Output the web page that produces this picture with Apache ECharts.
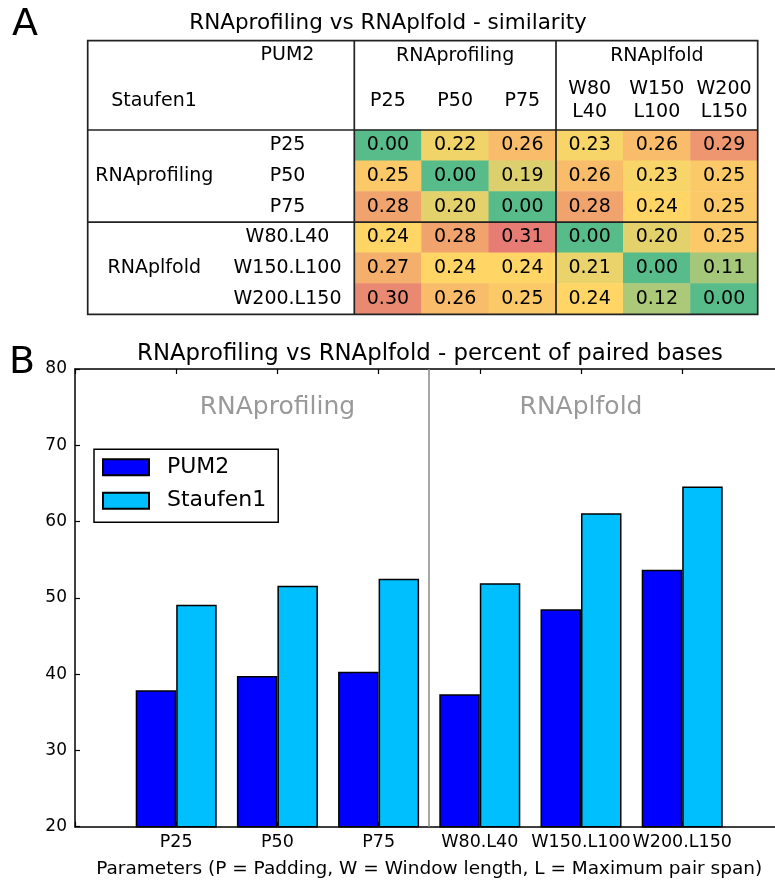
<!DOCTYPE html>
<html><head><meta charset="utf-8">
<script src="https://cdn.jsdelivr.net/npm/echarts@6/dist/echarts.min.js"></script>
<style>html,body{margin:0;padding:0;background:#fff}#c{width:775px;height:882px}</style>
</head><body><div id="c"></div>
<script>
// ---------- Data: panel A (similarity table) ----------
const tableRowLabels = ['P25', 'P50', 'P75', 'W80.L40', 'W150.L100', 'W200.L150'];
const tableColLabels = ['P25', 'P50', 'P75', 'W80\nL40', 'W150\nL100', 'W200\nL150'];
const tableGroups = ['RNAprofiling', 'RNAplfold'];
const similarity = [
  [0.00, 0.22, 0.26, 0.23, 0.26, 0.29],
  [0.25, 0.00, 0.19, 0.26, 0.23, 0.25],
  [0.28, 0.20, 0.00, 0.28, 0.24, 0.25],
  [0.24, 0.28, 0.31, 0.00, 0.20, 0.25],
  [0.27, 0.24, 0.24, 0.21, 0.00, 0.11],
  [0.30, 0.26, 0.25, 0.24, 0.12, 0.00]
];
// ---------- Data: panel B (bars) ----------
const barCategories = ['P25', 'P50', 'P75', 'W80.L40', 'W150.L100', 'W200.L150'];
const barGroups = [{ name: 'RNAprofiling', from: 0, to: 2 }, { name: 'RNAplfold', from: 3, to: 5 }];
const pum2Values = [37.9, 39.75, 40.3, 37.35, 48.5, 53.7];
const staufen1Values = [49.1, 51.6, 52.5, 51.9, 61.1, 64.6];
const yMin = 20, yMax = 80, yStep = 10;

// ---------- Layout ----------
const FONT = 'DejaVu Sans';
const T = { left: 354.3, top: 130, width: 403.4, height: 184.3, outerLeft: 87.7, outerTop: 40.7 };
const B = { left: 75, top: 369, width: 708.4, height: 457.7 };

// colour scale green -> yellow -> red
function hex(c){return [1,3,5].map(i=>parseInt(c.substr(i,2),16));}
const stops = [[0, hex('#57bb8a')], [0.24, hex('#ffd666')], [0.31, hex('#e67c73')]];
function colorAt(v){
  for (let i=0;i<stops.length-1;i++){
    const [a,ca]=stops[i],[b,cb]=stops[i+1];
    if (v<=b+1e-9){const t=(v-a)/(b-a);return 'rgb('+ca.map((x,k)=>Math.round(x+(cb[k]-x)*t)).join(',')+')';}
  }
  return 'rgb('+stops[stops.length-1][1].join(',')+')';
}
const palette = [];
for (let i=0;i<=31;i++) palette.push(colorAt(i/100));

const heatData = [];
similarity.forEach((row, r) => row.forEach((v, c) => heatData.push([c, r, v])));

const chart = echarts.init(document.getElementById('c'), null, { renderer: 'canvas' });

const tableLine = { stroke: '#222', lineWidth: 1.7 };
const rowH = T.height / 6, colW = T.width / 6;
const outerRight = T.left + T.width, outerBottom = T.top + T.height;

const option = {
  animation: false,
  textStyle: { fontFamily: FONT, color: '#000' },
  grid: [
    { left: T.left, top: T.top, width: T.width, height: T.height, containLabel: false, outerBoundsMode: 'none' },
    { left: B.left, top: B.top, width: B.width, height: B.height, containLabel: false, outerBoundsMode: 'none' }
  ],
  visualMap: {
    show: false, type: 'continuous', min: 0, max: 0.31, seriesIndex: 0, dimension: 2,
    inRange: { color: palette }
  },
  legend: {
    data: ['PUM2', 'Staufen1'], orient: 'vertical', left: 94, top: 449.3,
    itemWidth: 46, itemHeight: 16, itemGap: 11.4, icon: 'rect',
    textStyle: { fontSize: 22, color: '#000', fontFamily: FONT, padding: [0, 0, 0, 13] },
    padding: [7, 12, 10.6, 8], borderColor: '#000', borderWidth: 1.5, selectedMode: false
  },
  xAxis: [
    { gridIndex: 0, type: 'category', position: 'top', data: tableColLabels,
      axisLine: { show: false }, axisTick: { show: false }, splitLine: { show: false },
      axisLabel: { margin: 29, verticalAlign: 'middle', fontSize: 19, lineHeight: 23, color: '#000', interval: 0 } },
    { gridIndex: 0, type: 'category', position: 'top', data: tableGroups,
      axisLine: { show: false }, axisTick: { show: false }, splitLine: { show: false },
      axisLabel: { margin: 74, verticalAlign: 'middle', fontSize: 19, color: '#000', interval: 0 } },
    { gridIndex: 1, type: 'value', position: 'bottom', min: -1, max: 6, interval: 1,
      axisLine: { onZero: false, lineStyle: { color: '#000', width: 1.5 } },
      axisTick: { inside: true, length: 5, lineStyle: { color: '#000', width: 1.2 } },
      splitLine: { show: false },
      axisLabel: { formatter: v => barCategories[v] || '', fontSize: 17.5, color: '#000', margin: 7 },
      name: 'Parameters (P = Padding, W = Window length, L = Maximum pair span)',
      nameLocation: 'middle', nameGap: 33, nameTextStyle: { fontSize: 18.5, color: '#000' } },
    { gridIndex: 1, type: 'value', position: 'top', min: -1, max: 6, interval: 1,
      axisLine: { onZero: false, lineStyle: { color: '#000', width: 1.5 } },
      axisTick: { inside: true, length: 5, lineStyle: { color: '#000', width: 1.2 } },
      splitLine: { show: false }, axisLabel: { show: false } }
  ],
  yAxis: [
    { gridIndex: 0, type: 'category', position: 'left', inverse: true, data: tableRowLabels,
      axisLine: { show: false }, axisTick: { show: false }, splitLine: { show: false },
      axisLabel: { margin: 66.8, align: 'center', fontSize: 19, color: '#000', interval: 0 } },
    { gridIndex: 0, type: 'category', position: 'left', inverse: true, data: tableGroups,
      axisLine: { show: false }, axisTick: { show: false }, splitLine: { show: false },
      axisLabel: { margin: 200, align: 'center', fontSize: 19, color: '#000', interval: 0 } },
    { gridIndex: 1, type: 'value', position: 'left', min: yMin, max: yMax, interval: yStep,
      axisLine: { show: true, onZero: false, lineStyle: { color: '#000', width: 1.5 } },
      axisTick: { show: true, inside: true, length: 5, lineStyle: { color: '#000', width: 1.2 } },
      splitLine: { show: false },
      axisLabel: { fontSize: 17, color: '#000', margin: 8 } }
  ],
  series: [
    { type: 'heatmap', xAxisIndex: 0, yAxisIndex: 0, data: heatData,
      label: { show: true, formatter: p => p.value[2].toFixed(2), fontSize: 19, color: '#000' },
      itemStyle: { borderWidth: 0 }, emphasis: { disabled: true } },
    { type: 'bar', name: 'PUM2', xAxisIndex: 2, yAxisIndex: 2,
      data: pum2Values.map((v, i) => [i, v]), barWidth: 40.5, barGap: '0%',
      itemStyle: { color: '#0000ff', borderColor: '#000', borderWidth: 1.5 },
      emphasis: { disabled: true } },
    { type: 'bar', name: 'Staufen1', xAxisIndex: 2, yAxisIndex: 2,
      data: staufen1Values.map((v, i) => [i, v]), barWidth: 40.5, barGap: '0%',
      itemStyle: { color: '#00bfff', borderColor: '#000', borderWidth: 1.5 },
      emphasis: { disabled: true } },
    { type: 'scatter', xAxisIndex: 2, yAxisIndex: 2, symbolSize: 0, silent: true, z: 1,
      data: barGroups.map(g => ({ name: g.name, value: [(g.from + g.to) / 2, 75] })),
      label: { show: true, position: 'inside', formatter: p => p.name, fontSize: 25, color: '#808080' },
      markLine: { silent: true, symbol: 'none', label: { show: false },
        lineStyle: { color: '#888', width: 1.5, type: 'solid' },
        data: [{ xAxis: (barGroups[0].to + barGroups[1].from) / 2 }] } }
  ],
  graphic: [
    { type: 'text', left: 12, top: 6, style: { text: 'A', font: '38px ' + FONT, fill: '#000' } },
    { type: 'text', left: 9, top: 344, style: { text: 'B', font: '38px ' + FONT, fill: '#000' } },
    { type: 'text', x: 388, y: 23.5, style: { text: 'RNAprofiling vs RNAplfold - similarity', font: '21.5px ' + FONT, fill: '#000', align: 'center', verticalAlign: 'middle' } },
    { type: 'text', x: 430, y: 354, style: { text: 'RNAprofiling vs RNAplfold - percent of paired bases', font: '22.8px ' + FONT, fill: '#000', align: 'center', verticalAlign: 'middle' } },
    { type: 'text', x: T.left - 66.8, y: 55, style: { text: 'PUM2', font: '19px ' + FONT, fill: '#000', align: 'center', verticalAlign: 'middle' } },
    { type: 'text', x: 154, y: 101, style: { text: 'Staufen1', font: '19px ' + FONT, fill: '#000', align: 'center', verticalAlign: 'middle' } },
    { type: 'rect', z: 100, shape: { x: T.outerLeft, y: T.outerTop, width: outerRight - T.outerLeft, height: outerBottom - T.outerTop }, style: Object.assign({ fill: null }, tableLine) },
    { type: 'line', z: 100, shape: { x1: T.left, y1: T.outerTop, x2: T.left, y2: outerBottom }, style: tableLine },
    { type: 'line', z: 100, shape: { x1: T.left + 3 * colW, y1: T.outerTop, x2: T.left + 3 * colW, y2: outerBottom }, style: tableLine },
    { type: 'line', z: 100, shape: { x1: T.outerLeft, y1: T.top, x2: outerRight, y2: T.top }, style: tableLine },
    { type: 'line', z: 100, shape: { x1: T.outerLeft, y1: T.top + 3 * rowH, x2: outerRight, y2: T.top + 3 * rowH }, style: tableLine }
  ]
};
chart.setOption(option);
</script>
</body></html>
